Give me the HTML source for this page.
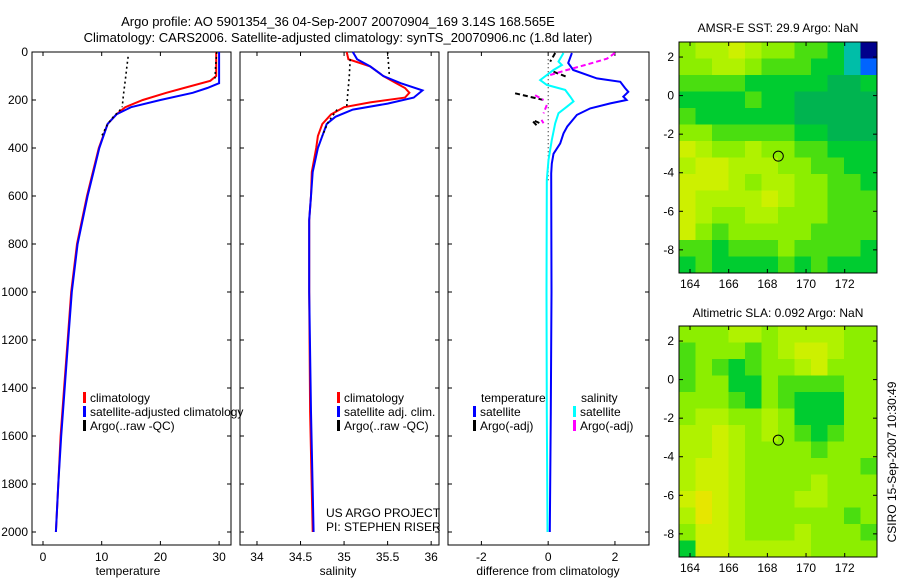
<!DOCTYPE html>
<html><head><meta charset="utf-8"><style>
body{margin:0;background:#fff}
svg{display:block;font-family:"Liberation Sans",sans-serif}
</style></head><body>
<svg id="c" width="900" height="580" viewBox="0 0 900 580">
<text x="338" y="26" font-size="13" text-anchor="middle">Argo profile: AO 5901354_36 04-Sep-2007 20070904_169 3.14S 168.565E</text>
<text x="338" y="42" font-size="13" text-anchor="middle">Climatology: CARS2006. Satellite-adjusted climatology: synTS_20070906.nc (1.8d later)</text>
<text x="778" y="32" font-size="12" text-anchor="middle">AMSR-E SST: 29.9 Argo: NaN</text>
<text x="778" y="317" font-size="12" text-anchor="middle">Altimetric SLA: 0.092 Argo: NaN</text>
<text x="0" y="0" font-size="12" text-anchor="middle" transform="translate(896,462) rotate(-90)">CSIRO 15-Sep-2007 10:30:49</text>
<text x="128" y="575" font-size="12" text-anchor="middle">temperature</text>
<text x="338" y="575" font-size="12" text-anchor="middle">salinity</text>
<text x="548" y="575" font-size="12" text-anchor="middle">difference from climatology</text>
<text x="326" y="517" font-size="12">US ARGO PROJECT</text>
<text x="326" y="531" font-size="12">PI: STEPHEN RISER</text>
</svg>
<script>
// ---- data ----
const depthTicks=[0,200,400,600,800,1000,1200,1400,1600,1800,2000];
const tempTicks=[0,10,20,30];
const salTicks=[34,34.5,35,35.5,36];
const salTickLabels=["34","34.5","35","35.5","36"];
const diffTicks=[-2,0,2];
const lonTicks=[164,166,168,170,172];
const latTicks=[2,0,-2,-4,-6,-8];

const tClimDepth=[0,100,120,150,170,200,230,260,300,400,500,600,800,1000,1200,1400,1600,1800,2000];
const tClim=[29.5,29.5,28.5,24,21,17,14,12.5,11,9.5,8.5,7.5,5.8,4.8,4.2,3.6,3.0,2.6,2.2];
const tSatDepth=[0,130,150,170,200,230,260,300,400,500,600,800,1000,1200,1400,1600,1800,2000];
const tSat=[30,30,28,25.5,20,15,12.5,11,9.6,8.6,7.6,5.9,4.9,4.3,3.7,3.1,2.6,2.2];
const tArgoDepth=[0,30,60,110,null,20,60,100,140,180,230,null,240,270,300,350];
const tArgo=[29.6,29.5,29.4,29.3,null,14.5,14.3,14.1,13.9,13.7,13.5,null,13.2,12,11,10];

const sClimDepth=[0,30,60,100,130,150,170,190,210,230,260,300,350,400,500,600,700,1000,1500,2000];
const sClim=[35.03,35.05,35.3,35.45,35.6,35.7,35.75,35.7,35.3,35.0,34.85,34.75,34.7,34.68,34.63,34.62,34.6,34.6,34.61,34.64];
const sSatDepth=[0,30,60,100,130,160,190,215,240,270,300,400,500,600,700,1000,1500,2000];
const sSat=[35.1,35.15,35.3,35.45,35.65,35.9,35.8,35.5,35.1,34.9,34.8,34.7,34.64,34.62,34.6,34.6,34.62,34.65];
const sArgoDepth=[0,50,100,null,30,100,180,230,null,240,290,350];
const sArgo=[35.5,35.51,35.52,null,35.07,35.06,35.04,35.03,null,34.92,34.82,34.75];

const dTSatDepth=[4,46,75,110,124,150,166,186,200,214,235,262,311,339,381,424,465,506,1000,1500,2000];
const dTSat=[0.71,0.6,0.75,1.46,2.16,2.3,2.4,2.25,2.35,1.86,1.26,0.86,0.57,0.46,0.36,0.16,0.11,0.09,0.1,0.08,0.05];
const dSSatDepth=[4,40,54,75,117,137,158,186,206,228,255,297,367,450,533,1000,1500,2000];
const dSSat=[0.46,0.31,0.41,0.16,-0.24,-0.04,0.51,0.66,0.76,0.56,0.31,0.21,0.11,0.01,-0.04,-0.05,-0.04,-0.02];
const dTArgoDepth=[4,40,null,82,106,null,172,200,null,287,300,null,290,305];
const dTArgo=[0.21,0.06,null,0.16,0.6,null,-0.99,-0.14,null,-0.4,-0.2,null,-0.45,-0.35];
const dSArgoDepth=[4,28,52,75,96,null,180,200,null,221,256,null,283,297];
const dSArgo=[2.0,1.76,1.16,0.56,0.06,null,-0.39,-0.14,null,-0.04,-0.14,null,-0.2,-0.14];

const sstGrid=[
[6,7,7,8,7,6,6,5,5,4,2,0],
[6,6,7,7,6,5,5,5,4,4,2,1],
[5,5,5,5,4,4,4,4,4,3,3,4],
[4,4,4,4,5,4,4,3,3,3,3,3],
[5,4,4,4,4,4,4,3,3,3,3,3],
[6,6,5,5,5,5,5,4,4,3,3,3],
[8,7,6,6,7,6,6,5,5,4,4,4],
[7,8,8,7,7,7,6,6,5,5,4,4],
[8,8,8,7,6,7,7,6,6,5,5,4],
[8,7,7,7,7,8,7,6,6,5,5,5],
[8,7,6,6,7,7,6,6,6,5,5,5],
[8,6,5,6,6,6,6,6,5,5,5,5],
[5,5,4,5,5,5,6,5,5,5,5,4],
[4,5,4,4,4,4,5,4,5,4,4,4]];
const slaGrid=[
[6,6,6,7,7,6,7,7,7,7,6,6],
[5,6,6,6,5,6,7,8,8,7,6,6],
[5,6,5,4,5,6,6,7,8,6,6,6],
[5,6,6,4,4,6,5,5,5,5,6,6],
[6,6,6,5,4,6,5,4,4,4,6,6],
[6,7,7,6,6,7,6,4,4,4,6,6],
[7,7,8,7,6,7,6,5,4,5,6,6],
[7,7,8,7,6,6,6,6,5,6,6,6],
[7,8,8,7,6,6,6,6,6,6,6,5],
[7,8,8,7,6,6,6,6,7,6,6,6],
[8,9,8,7,6,6,6,7,7,6,6,6],
[7,9,8,7,6,6,6,6,6,6,5,6],
[6,8,8,7,6,6,6,7,6,6,6,5],
[4,8,8,7,7,7,7,7,6,6,6,6]];
const argoLon=168.565, argoLat=-3.14;
const palette=["#00008c","#0064ff","#00bea8","#00b450","#00cc30","#4ade10","#8cee00","#b0f200","#cdf000","#e6e600"];

// ---- drawing ----
const svg=document.getElementById('c');
const NS='http://www.w3.org/2000/svg';
function mk(tag,attrs,parent){const e=document.createElementNS(NS,tag);for(const k in attrs)e.setAttribute(k,attrs[k]);(parent||svg).appendChild(e);return e;}
function lin(d0,d1,r0,r1){return v=>r0+(v-d0)*(r1-r0)/(d1-d0);}
const yD=lin(0,2000,52,532);
const TOP=52,BOT=545;
const panels=[
 {name:'temperature-panel',x0:32,x1:231,dom:[-1.874,32.03],ticks:tempTicks,labels:tempTicks.map(String),ylabels:true},
 {name:'salinity-panel',x0:240,x1:439,dom:[33.805,36.09],ticks:salTicks,labels:salTickLabels},
 {name:'difference-panel',x0:448,x1:649,dom:[-3.0,3.02],ticks:diffTicks,labels:diffTicks.map(String)}];
panels.forEach(p=>{p.sx=lin(p.dom[0],p.dom[1],p.x0,p.x1);});

function path(xs,ds,sx,sy,color,w,name,dash){
 let d='',pen=false;
 for(let i=0;i<xs.length;i++){
  if(xs[i]===null||ds[i]===null){pen=false;continue;}
  d+=(pen?'L':'M')+sx(xs[i]).toFixed(1)+','+sy(ds[i]).toFixed(1);pen=true;}
 const e=mk('path',{d:d,fill:'none',stroke:color,'stroke-width':w});
 if(dash)e.setAttribute('stroke-dasharray',dash);
 
 
 return e;
}

panels.forEach((p,pi)=>{
 const g=mk('g',{});
 
 
 mk('rect',{x:p.x0,y:TOP,width:p.x1-p.x0,height:BOT-TOP,fill:'none',stroke:'#000','stroke-width':1},g);
 p.ticks.forEach((t,i)=>{
  const x=p.sx(t);
  mk('line',{x1:x,x2:x,y1:BOT,y2:BOT-4,stroke:'#000'},g);
  mk('line',{x1:x,x2:x,y1:TOP,y2:TOP+4,stroke:'#000'},g);
  const tx=mk('text',{x:x,y:561,'font-size':12,'text-anchor':'middle'},g);tx.textContent=p.labels[i];
  
  
 });
 depthTicks.forEach(t=>{
  const y=yD(t);
  mk('line',{x1:p.x0,x2:p.x0+4,y1:y,y2:y,stroke:'#000'},g);
  mk('line',{x1:p.x1,x2:p.x1-4,y1:y,y2:y,stroke:'#000'},g);
  if(p.ylabels){const tx=mk('text',{x:28,y:y+4,'font-size':12,'text-anchor':'end'},g);tx.textContent=String(t);
   
   }
 });
});
const [P1,P2,P3]=panels;
path(tClim,tClimDepth,P1.sx,yD,'#ff0000',2,'temp-climatology-line');
path(tSat,tSatDepth,P1.sx,yD,'#0000ff',2,'temp-satellite-line');
path(tArgo,tArgoDepth,P1.sx,yD,'#000',1.6,'temp-argo-line','2,3');
path(sClim,sClimDepth,P2.sx,yD,'#ff0000',2,'sal-climatology-line');
path(sSat,sSatDepth,P2.sx,yD,'#0000ff',2,'sal-satellite-line');
path(sArgo,sArgoDepth,P2.sx,yD,'#000',1.6,'sal-argo-line','2,3');
path([0,0],[30,535],P3.sx,yD,'#000',1,'zero-reference-line','1,3');
path(dTSat,dTSatDepth,P3.sx,yD,'#0000ff',2,'diff-temp-satellite-line');
path(dSSat,dSSatDepth,P3.sx,yD,'#00ffff',2,'diff-sal-satellite-line');
path(dTArgo,dTArgoDepth,P3.sx,yD,'#000',2,'diff-temp-argo-line','5,3');
path(dSArgo,dSArgoDepth,P3.sx,yD,'#ff00ff',2,'diff-sal-argo-line','5,3');

function legend(x,y,color,label,name){
 const g=mk('g',{});
 
 
 mk('rect',{x:x,y:y-10,width:3,height:11,fill:color},g);
 const t=mk('text',{x:x+7,y:y,'font-size':12},g);t.textContent=label;
}
legend(83,402,'#ff0000','climatology','legend-climatology');
legend(83,416,'#0000ff','satellite-adjusted climatology','legend-satellite-adjusted');
legend(83,430,'#000','Argo(..raw -QC)','legend-argo-raw');
legend(337,402,'#ff0000','climatology','legend-sal-climatology');
legend(337,416,'#0000ff','satellite adj. clim.','legend-sal-satellite');
legend(337,430,'#000','Argo(..raw -QC)','legend-sal-argo');
(function(){const t=mk('text',{x:481,y:402,'font-size':12});t.textContent='temperature';
 
 
 const s=mk('text',{x:581,y:402,'font-size':12});s.textContent='salinity';
 
 })();
legend(473,416,'#0000ff','satellite','legend-diff-temp-satellite');
legend(473,430,'#000','Argo(-adj)','legend-diff-temp-argo');
legend(573,416,'#00ffff','satellite','legend-diff-sal-satellite');
legend(573,430,'#ff00ff','Argo(-adj)','legend-diff-sal-argo');

// maps
const LON0=163.43,LON1=173.67,LAT0=2.78,LAT1=-9.2;
function drawMap(grid,top,name){
 const bot=top+231,L=679,R=877;
 const sx=lin(LON0,LON1,L,R),sy=lin(LAT0,LAT1,top,bot);
 const g=mk('g',{});
 
 
 const rows=grid.length,cols=grid[0].length;
 const dlon=(LON1-LON0)/cols,dlat=(LAT1-LAT0)/rows;
 for(let r=0;r<rows;r++)for(let c=0;c<cols;c++){
  const x=sx(LON0+c*dlon),y=sy(LAT0+r*dlat);
  const e=mk('rect',{x:x,y:y,width:sx(LON0+(c+1)*dlon)-x+0.5,height:sy(LAT0+(r+1)*dlat)-y+0.5,fill:palette[grid[r][c]]},g);
  
  
 }
 mk('rect',{x:L,y:top,width:R-L,height:bot-top,fill:'none',stroke:'#000'},g);
 lonTicks.forEach(t=>{const x=sx(t);
  mk('line',{x1:x,x2:x,y1:bot,y2:bot-4,stroke:'#000'},g);
  mk('line',{x1:x,x2:x,y1:top,y2:top+4,stroke:'#000'},g);
  const tx=mk('text',{x:x,y:bot+15,'font-size':12,'text-anchor':'middle'},g);tx.textContent=String(t);
  
  });
 latTicks.forEach(t=>{const y=sy(t);
  mk('line',{x1:L,x2:L+4,y1:y,y2:y,stroke:'#000'},g);
  mk('line',{x1:R,x2:R-4,y1:y,y2:y,stroke:'#000'},g);
  const tx=mk('text',{x:674,y:y+4,'font-size':12,'text-anchor':'end'},g);tx.textContent=String(t);
  
  });
 const c=mk('circle',{cx:sx(argoLon),cy:sy(argoLat),r:5,fill:'none',stroke:'#000','stroke-width':1},g);
 
 
}
drawMap(sstGrid,42,'sst-map');
drawMap(slaGrid,326,'sla-map');
</script>
</body></html>
